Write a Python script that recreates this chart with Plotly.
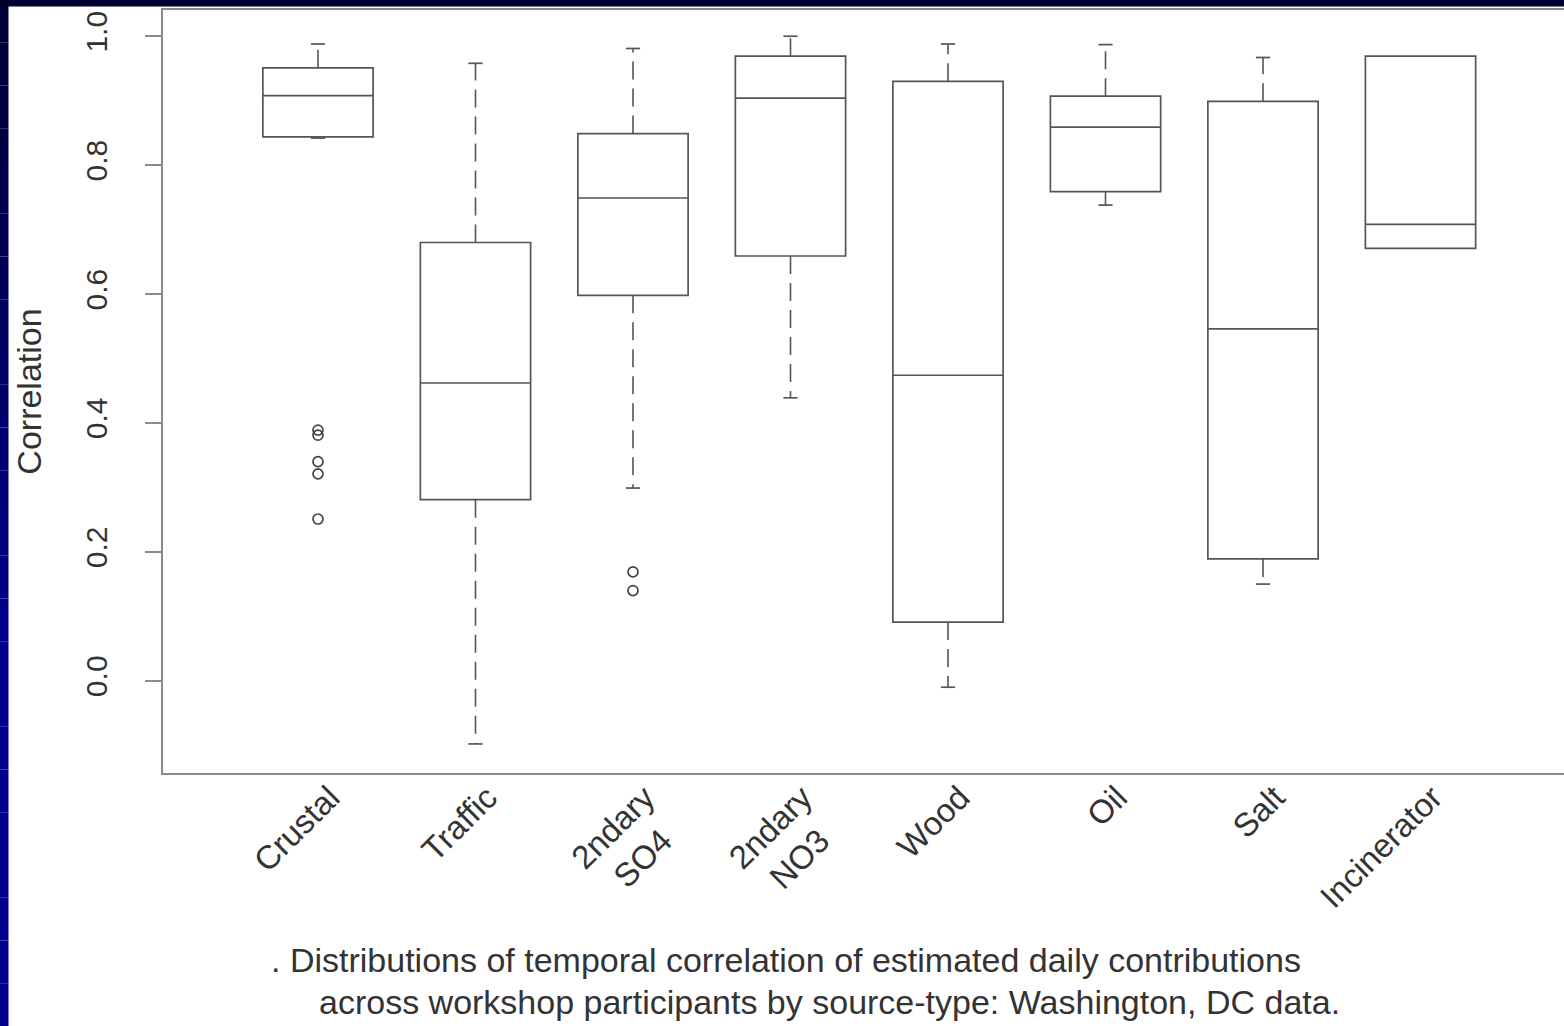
import plotly.graph_objects as go

# ---------------- data ----------------
categories = ["Crustal", "Traffic", "2ndary<br>SO4\u00a0\u00a0", "2ndary<br>NO3\u00a0\u00a0", "Wood", "Oil", "Salt", "Incinerator"]
upper_whisker = [0.988, 0.958, 0.981, 1.000, 0.988, 0.987, 0.967, 0.969]
q3_values     = [0.951, 0.680, 0.849, 0.969, 0.930, 0.907, 0.899, 0.969]
medians       = [0.908, 0.462, 0.749, 0.904, 0.474, 0.859, 0.546, 0.708]
q1_values     = [0.844, 0.281, 0.598, 0.659, 0.091, 0.759, 0.189, 0.671]
lower_whisker = [0.842, -0.098, 0.299, 0.439, -0.010, 0.738, 0.150, 0.671]
outlier_cat   = [0, 0, 0, 0, 0, 2, 2]
outlier_vals  = [0.389, 0.381, 0.340, 0.321, 0.251, 0.169, 0.140]
y_tick_vals   = [0.0, 0.2, 0.4, 0.6, 0.8, 1.0]
y_tick_text   = ["0.0", "0.2", "0.4", "0.6", "0.8", "1.0"]
caption_line1 = ". Distributions of temporal correlation of estimated daily contributions"
caption_line2 = "across workshop participants by source-type: Washington, DC data."

# ---------------- layout constants ----------------
W, H = 1564, 1026
L, R, T, B = 163, 0, 10, 253
PW, PH = W - L - R, H - T - B
FONT = "Liberation Sans, Arial, Helvetica, sans-serif"
LINE = "#555555"
AXIS = "#8a8a8a"
TEXT = "#333333"

def px2x(px):
    return (px - L) / PW

def py2y(py):
    return (H - B - py) / PH

fig = go.Figure()

cap_half = 0.045
for i, name in enumerate(categories):
    fig.add_trace(go.Box(
        x=[i], q1=[q1_values[i]], median=[medians[i]], q3=[q3_values[i]],
        lowerfence=[q1_values[i]], upperfence=[q3_values[i]],
        width=0.7, whiskerwidth=0, fillcolor="rgba(255,255,255,0)",
        line=dict(color=LINE, width=1.7), boxpoints=False,
        showlegend=False, hoverinfo="skip",
    ))
    xs, ys, cx, cy = [], [], [], []
    if upper_whisker[i] > q3_values[i] + 1e-9:
        xs += [i, i, None]; ys += [q3_values[i], upper_whisker[i], None]
        cx += [i - cap_half, i + cap_half, None]; cy += [upper_whisker[i], upper_whisker[i], None]
    if lower_whisker[i] < q1_values[i] - 1e-9:
        xs += [i, i, None]; ys += [q1_values[i], lower_whisker[i], None]
        cx += [i - cap_half, i + cap_half, None]; cy += [lower_whisker[i], lower_whisker[i], None]
    if xs:
        fig.add_trace(go.Scatter(x=xs, y=ys, mode="lines",
                                 line=dict(color=LINE, width=1.6, dash="18px,9px"),
                                 showlegend=False, hoverinfo="skip"))
        fig.add_trace(go.Scatter(x=cx, y=cy, mode="lines",
                                 line=dict(color=LINE, width=1.7),
                                 showlegend=False, hoverinfo="skip"))

fig.add_trace(go.Scatter(
    x=outlier_cat, y=outlier_vals, mode="markers",
    marker=dict(symbol="circle-open", size=10, color="#444444", line=dict(width=1.7)),
    showlegend=False, hoverinfo="skip",
))

# background frame (navy gradient strips)
shapes = []
n_seg = 24
for k in range(n_seg):
    y0p = H * k / n_seg
    y1p = H * (k + 1) / n_seg
    t = (k + 0.5) / n_seg
    b = int(50 + (140 - 50) * min(1.0, t * 1.6))
    shapes.append(dict(type="rect", xref="paper", yref="paper",
                       x0=px2x(0), x1=px2x(8.5), y0=py2y(y1p), y1=py2y(y0p),
                       fillcolor=f"rgb(0,0,{b})", line=dict(width=0), layer="below"))
shapes.append(dict(type="rect", xref="paper", yref="paper",
                   x0=px2x(0), x1=px2x(W), y0=py2y(6.5), y1=py2y(0),
                   fillcolor="rgb(0,0,48)", line=dict(width=0), layer="below"))

annotations = [
    dict(text=caption_line1, x=px2x(786), y=py2y(960), xref="paper", yref="paper",
         xanchor="center", yanchor="middle", showarrow=False,
         font=dict(family=FONT, size=34, color=TEXT)),
    dict(text=caption_line2, x=px2x(829), y=py2y(1002), xref="paper", yref="paper",
         xanchor="center", yanchor="middle", showarrow=False,
         font=dict(family=FONT, size=34, color=TEXT)),
]

fig.update_layout(
    width=W, height=H,
    margin=dict(l=L, r=R, t=T, b=B, pad=0),
    paper_bgcolor="white", plot_bgcolor="white",
    font=dict(family=FONT, color=TEXT),
    shapes=shapes, annotations=annotations,
    showlegend=False,
)

fig.update_xaxes(
    range=[-0.984, 7.911],
    tickmode="array", tickvals=list(range(len(categories))), ticktext=categories,
    tickangle=-45, ticks="", showgrid=False, zeroline=False,
    showline=True, mirror=True, linecolor=AXIS, linewidth=2,
    tickfont=dict(family=FONT, size=33, color=TEXT),
    ticklabelshift=12, ticklabelstandoff=-10,
)
fig.update_yaxes(
    range=[-0.1431, 1.0407],
    tickmode="array", tickvals=y_tick_vals, ticktext=y_tick_text,
    tickangle=-90, ticks="outside", ticklen=16, tickwidth=2, tickcolor=AXIS,
    showgrid=False, zeroline=False,
    showline=True, mirror=False, linecolor=AXIS, linewidth=2,
    tickfont=dict(family=FONT, size=30, color=TEXT),
    ticklabelstandoff=26,
    title=dict(text="Correlation", font=dict(family=FONT, size=34, color=TEXT), standoff=28),
)

fig.write_html(
    "out.html",
    config={"displayModeBar": False},
    post_script="document.body.style.margin='0';document.body.style.overflow='hidden';",
)
